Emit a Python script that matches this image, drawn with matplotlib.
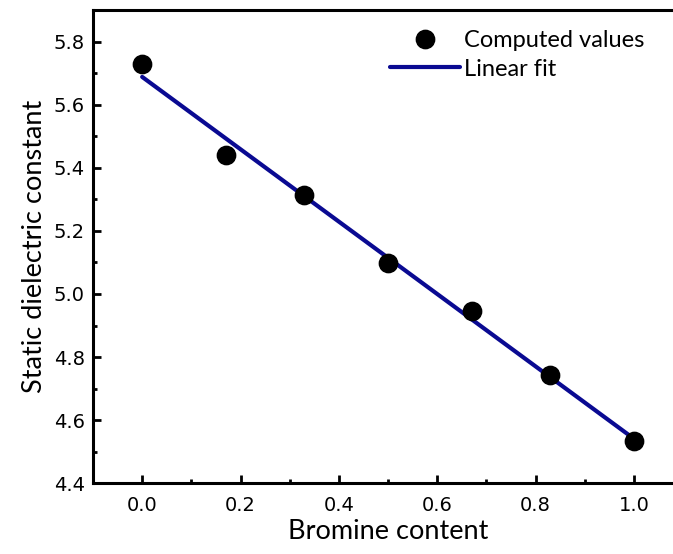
import numpy as np
import matplotlib
matplotlib.use("Agg")
import matplotlib.pyplot as plt
from matplotlib.ticker import MultipleLocator

# Bromine content vs. computed static dielectric constant
bromine = [0.0, 0.17, 0.33, 0.5, 0.67, 0.83, 1.0]
dielectric = [5.728, 5.440, 5.314, 5.097, 4.947, 4.742, 4.535]

x_ticks = [0.0, 0.2, 0.4, 0.6, 0.8, 1.0]
y_ticks = [4.4, 4.6, 4.8, 5.0, 5.2, 5.4, 5.6, 5.8]

label_font = "Lato"
tick_font = "DejaVu Sans"
fit_color = "#0a0a92"

W, H = 673, 554
fig = plt.figure(figsize=(W / 100, H / 100), dpi=100)
ax = fig.add_axes([93 / W, (H - 483.3) / H, 590 / W, 473.3 / H])

# least-squares linear fit
slope, intercept = np.polyfit(bromine, dielectric, 1)
xf = np.array([bromine[0], bromine[-1]])
ax.plot(xf, slope * xf + intercept, color=fit_color, lw=3.0,
        solid_capstyle="round", label="Linear fit", zorder=2)
ax.plot(bromine, dielectric, "o", color="black", ms=13.2,
        label="Computed values", zorder=3)

ax.set_xlim(-0.1, 1.1)
ax.set_ylim(4.4, 5.9)
ax.set_xticks(x_ticks)
ax.set_yticks(y_ticks)
ax.xaxis.set_minor_locator(MultipleLocator(0.1))
ax.yaxis.set_minor_locator(MultipleLocator(0.1))
ax.set_xticklabels([f"{v:.1f}" for v in x_ticks], fontfamily=tick_font, fontsize=14)
ax.set_yticklabels([f"{v:.1f}" for v in y_ticks], fontfamily=tick_font, fontsize=14)

ax.tick_params(which="major", direction="in", length=5.8, width=2.0)
ax.tick_params(which="minor", direction="in", length=2.6, width=2.0)
ax.tick_params(axis="x", which="both", pad=9, top=False)
ax.tick_params(axis="y", which="both", pad=6, right=False)

for side in ("left", "bottom", "top"):
    ax.spines[side].set_linewidth(2.2)
ax.spines["right"].set_visible(False)

ax.set_xlabel("Bromine content", fontfamily=label_font, fontsize=19.5, labelpad=3)
ax.set_ylabel("Static dielectric constant", fontfamily=label_font, fontsize=19.5, labelpad=5)

handles, labels = ax.get_legend_handles_labels()
leg = fig.legend(handles[::-1], labels[::-1], loc="upper left",
                 bbox_to_anchor=(390 / W, 1 - 30 / H), frameon=False,
                 prop={"family": label_font, "size": 17},
                 handlelength=2.95, handletextpad=0.2, labelspacing=0.32,
                 borderpad=0, borderaxespad=0)

fig.savefig("out.png", dpi=100)
